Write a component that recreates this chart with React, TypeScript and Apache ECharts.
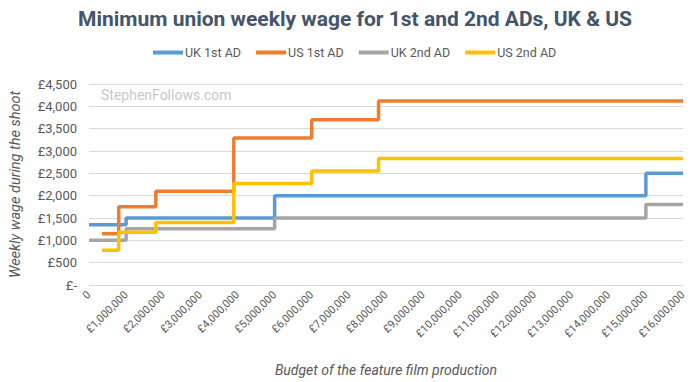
import React, { useEffect, useRef } from "react";
import * as echarts from "echarts";

// Budgets in £ millions, weekly wages in £
const ukFirstBudget = [0, 1.0, 5.0, 15.0, 16];
const ukFirstWage = [1350, 1500, 2000, 2500, 2500];
const usFirstBudget = [0.35, 0.8, 1.8, 3.9, 6.0, 7.8, 16];
const usFirstWage = [1150, 1750, 2100, 3290, 3700, 4120, 4120];
const ukSecondBudget = [0, 1.0, 5.0, 15.0, 16];
const ukSecondWage = [1000, 1260, 1500, 1800, 1800];
const usSecondBudget = [0.35, 0.8, 1.8, 3.9, 6.0, 7.8, 16];
const usSecondWage = [780, 1180, 1400, 2270, 2550, 2830, 2830];

const seriesNames = ["UK 1st AD", "US 1st AD", "UK 2nd AD", "US 2nd AD"];
const seriesColors = ["#5B9BD5", "#ED7D31", "#A5A5A5", "#FFC000"];

const xTickLabels = [
  "0", "£1,000,000", "£2,000,000", "£3,000,000", "£4,000,000", "£5,000,000",
  "£6,000,000", "£7,000,000", "£8,000,000", "£9,000,000", "£10,000,000",
  "£11,000,000", "£12,000,000", "£13,000,000", "£14,000,000", "£15,000,000",
  "£16,000,000",
];
const yTickLabels = [
  "£-", "£500", "£1,000", "£1,500", "£2,000", "£2,500", "£3,000", "£3,500",
  "£4,000", "£4,500",
];

const FONT = "Roboto, 'Noto Sans', sans-serif";

function pairs(b: number[], w: number[]) {
  return b.map((v, i) => [v * 1000000, w[i]]);
}

export default function App() {
  const ref = useRef<HTMLDivElement>(null);
  useEffect(() => {
    if (!ref.current) return;
    const chart = echarts.init(ref.current, null, { renderer: "svg" });
    const datasets = [
      pairs(ukFirstBudget, ukFirstWage),
      pairs(usFirstBudget, usFirstWage),
      pairs(ukSecondBudget, ukSecondWage),
      pairs(usSecondBudget, usSecondWage),
    ];
    chart.setOption({
      animation: false,
      backgroundColor: "#ffffff",
      title: {
        text: "Minimum union weekly wage for 1st and 2nd ADs, UK & US",
        left: 73,
        top: 3,
        textStyle: {
          fontFamily: FONT,
          fontSize: 21,
          fontWeight: "bold",
          color: "#44546A",
        },
      },
      legend: {
        top: 46,
        left: 153,
        padding: 0,
        itemWidth: 30,
        itemHeight: 4,
        itemGap: 15,
        icon: "rect",
        data: seriesNames,
        textStyle: { fontFamily: FONT, fontSize: 12.5, color: "#595959", padding: [0, 0, 0, -3] },
      },
      grid: { left: 88, right: 17, top: 84, bottom: 97, containLabel: false },
      xAxis: {
        type: "value",
        min: 0,
        max: 16000000,
        interval: 1000000,
        name: "Budget of the feature film production",
        nameLocation: "middle",
        nameGap: 78,
        nameTextStyle: { fontFamily: FONT, fontSize: 14, fontStyle: "italic", color: "#595959" },
        axisLine: { show: false },
        axisTick: { show: false },
        splitLine: { show: false },
        axisLabel: {
          rotate: 45,
          fontFamily: FONT,
          fontSize: 11,
          color: "#595959",
          margin: 8,
          formatter: (v: number) => xTickLabels[Math.round(v / 1000000)] ?? "",
        },
      },
      yAxis: {
        type: "value",
        min: 0,
        max: 4500,
        interval: 500,
        name: "Weekly wage during the shoot",
        nameLocation: "middle",
        nameGap: 66,
        nameTextStyle: { fontFamily: FONT, fontSize: 14.5, fontStyle: "italic", color: "#595959" },
        axisLine: { show: false },
        axisTick: { show: false },
        splitLine: { lineStyle: { color: "#D9D9D9", width: 1 } },
        axisLabel: {
          fontFamily: FONT,
          fontSize: 13,
          color: "#595959",
          margin: 12,
          formatter: (v: number) => yTickLabels[Math.round(v / 500)] ?? "",
        },
      },
      graphic: [
        {
          type: "text",
          left: 101,
          top: 88,
          style: {
            text: "StephenFollows.com",
            fontFamily: FONT,
            fontSize: 14,
            fill: "#C8C8C8",
          },
        },
      ],
      series: seriesNames.map((name, i) => ({
        name,
        type: "line",
        step: "end",
        data: datasets[i],
        symbol: "none",
        color: seriesColors[i],
        lineStyle: { width: 3.5, color: seriesColors[i] },
      })),
    });
    return () => chart.dispose();
  }, []);
  return <div ref={ref} style={{ width: 700, height: 382, position: "absolute", left: 0, top: 0 }} />;
}
